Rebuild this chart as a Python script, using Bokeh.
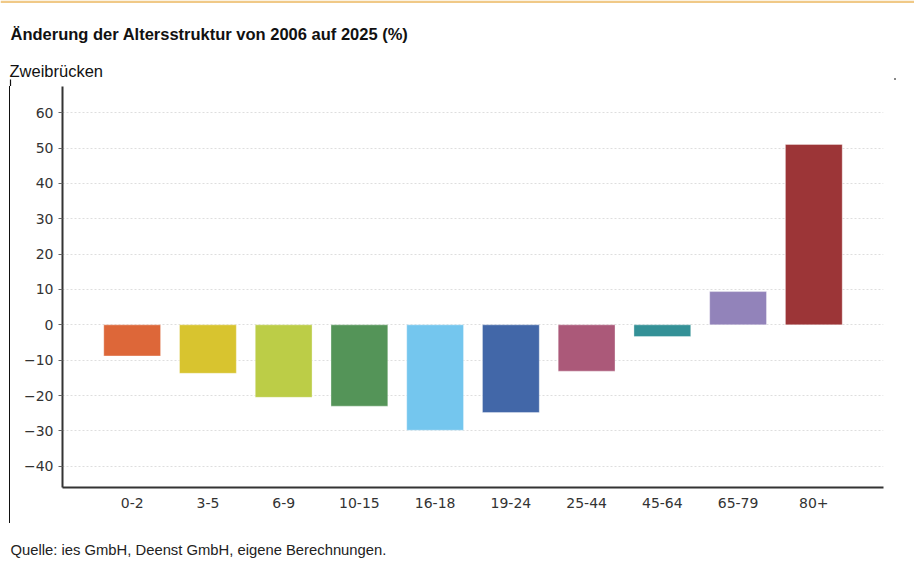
from bokeh.plotting import figure
from bokeh.layouts import column, row
from bokeh.models import ColumnDataSource, FactorRange, Range1d, FixedTicker, Div
from bokeh.core.properties import value
from bokeh.embed import file_html
from bokeh.resources import INLINE

categories = ["0-2", "3-5", "6-9", "10-15", "16-18", "19-24", "25-44", "45-64", "65-79", "80+"]
values = [-8.8, -13.7, -20.5, -23.0, -29.8, -24.8, -13.1, -3.3, 9.4, 51.0]
colors = ["#dd6739", "#d8c42f", "#bccd47", "#549458", "#74c6ee",
          "#4267a8", "#ab5979", "#349197", "#9283ba", "#9c3537"]
y_ticks = [-40, -30, -20, -10, 0, 10, 20, 30, 40, 50, 60]

title_text = "Änderung der Altersstruktur von 2006 auf 2025 (%)"
subtitle_text = "Zweibrücken"
source_text = "Quelle: ies GmbH, Deenst GmbH, eigene Berechnungen."

W = 914
HEAD_H = 86
MID_H = 441
FOOT_H = 34


def blank(width, height, ystart, yend):
    f = figure(width=width, height=height, output_backend="svg", toolbar_location=None,
               x_range=Range1d(0, width), y_range=Range1d(ystart, yend),
               min_border=0)
    f.axis.visible = False
    f.grid.visible = False
    f.outline_line_color = None
    f.background_fill_color = "white"
    f.border_fill_color = "white"
    return f


# header: title + subtitle (page pixel coordinates, y downwards)
head = blank(W, HEAD_H, HEAD_H, 0)
head.quad(left=[0], right=[W], top=[0], bottom=[2.5], fill_color="#f0c987", line_color=None)
head.text(x=[10], y=[33], text=[title_text], text_font=value("Liberation Sans"),
          text_font_style=value("bold"), text_font_size=value("16.5px"),
          text_color="#111111", text_baseline="middle")
head.text(x=[9], y=[70], text=[subtitle_text], text_font=value("Liberation Sans"),
          text_font_size=value("16.5px"), text_color="#111111", text_baseline="middle")
head.segment(x0=[10], y0=[79], x1=[10], y1=[HEAD_H], line_color="#111111", line_width=1.2)
head.rect(x=[894.5], y=[78.5], width=2, height=2, fill_color="#888888", line_color=None)

# thin strip carrying the left frame line
STRIP_W = 12
strip = Div(text="", width=1, height=437, margin=(0, 2, 4, 9),
            styles={"background-color": "#111111"})

# main chart
src = ColumnDataSource(dict(cat=categories, val=values, color=colors))
p = figure(width=W - STRIP_W, height=MID_H, output_backend="svg", toolbar_location=None,
           x_range=FactorRange(factors=categories, range_padding=0.084),
           y_range=Range1d(-46, 67.4),
           min_border_left=50, min_border_right=31, min_border_top=0, min_border_bottom=40)
p.outline_line_color = None
p.background_fill_color = "white"
p.border_fill_color = "white"

p.vbar(x="cat", top="val", bottom=0, width=0.75, source=src,
       fill_color="color", line_color="white", line_alpha=0.35, line_width=1)

p.yaxis.ticker = FixedTicker(ticks=y_ticks)
p.xgrid.grid_line_color = None
p.ygrid.ticker = FixedTicker(ticks=y_ticks)
p.ygrid.grid_line_color = "#dedede"
p.ygrid.grid_line_dash = "2 2"
p.ygrid.grid_line_width = 1

for ax in (p.xaxis, p.yaxis):
    ax.axis_line_color = "#333333"
    ax.axis_line_width = 2
    ax.major_label_text_font = "DejaVu Sans"
    ax.major_label_text_font_size = "14px"
    ax.major_label_text_color = "#333333"
    ax.minor_tick_line_color = None

p.yaxis.major_tick_line_color = "#666666"
p.yaxis.major_tick_out = 4
p.yaxis.major_tick_in = 0
p.yaxis.major_label_standoff = 5
p.xaxis.major_tick_line_color = None
p.xaxis.major_label_standoff = 4

# footer
foot = blank(W, FOOT_H, FOOT_H, 0)
foot.text(x=[10], y=[22], text=[source_text], text_font=value("Liberation Sans"),
          text_font_size=value("14.8px"), text_color="#222222", text_baseline="middle")
foot.rect(x=[895.5], y=[-4.5], width=2, height=2, fill_color="#888888", line_color=None)

layout = column(head, row(strip, p, spacing=0), foot, spacing=0)

open("out.html", "w").write(file_html(layout, INLINE))
